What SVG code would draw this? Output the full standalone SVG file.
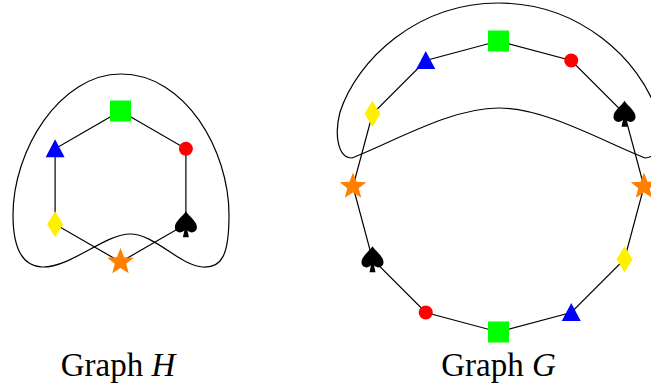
<svg xmlns="http://www.w3.org/2000/svg" xmlns:xlink="http://www.w3.org/1999/xlink" width="651" height="388" viewBox="0 0 651 388">
<style>
.edge{stroke:#000;stroke-width:1.2;fill:none}
.blob{stroke:#000;stroke-width:1.2;fill:none}
.label{font-family:"Liberation Serif","DejaVu Serif",serif;font-size:33px;fill:#000;text-anchor:middle}
.it{font-style:italic}
</style>
<defs>
<rect id="sq" x="-10.5" y="-10.5" width="21" height="21" fill="#00ff00"/>
<polygon id="tri" points="0,-9.5 9.5,8.5 -9.5,8.5" fill="#0000ff"/>
<circle id="cir" r="7" fill="#ff0000"/>
<polygon id="dia" points="0,-13 8,0 0,13 -8,0" fill="#fff000"/>
<path id="spd" d="M0,-13 C4,-7 11,-3 11,3 C11,8 5,10 1.5,6 L3,13 L-3,13 L-1.5,6 C-5,10 -11,8 -11,3 C-11,-3 -4,-7 0,-13 Z" fill="#000"/>
<polygon id="str" points="0,-14 3.53,-4.85 13.31,-4.33 5.71,1.85 8.23,11.33 0,6 -8.23,11.33 -5.71,1.85 -13.31,-4.33 -3.53,-4.85" fill="#ff8000"/>
</defs>
<g id="connectors">
<path class="blob" d="M121,74 C185,74 229,150 229,215 C229,255 222,268 203,267 C180,266 155,234 130,234 C105,234 70,268 42,267 C20,266 13,245 13,215 C13,150 60,74 121,74 Z"/>
<polygon class="edge" points="120.5,111 185.9,148.75 185.9,224.25 120.5,262 55.1,224.25 55.1,148.75"/>
<path class="blob" d="M498.5,3 C580,3 640,60 657,112 C663,135 659,158 645,158 C600,140 545,108 498.5,108 C452,108 397,140 352,158 C338,158 334,135 340,112 C357,60 417,3 498.5,3 Z"/>
<polygon class="edge" points="498.5,41 571.25,60.5 624.5,113.75 644,186.5 624.5,259.25 571.25,312.5 498.5,332 425.75,312.5 372.5,259.25 353,186.5 372.5,113.75 425.75,60.5"/>
</g>
<g id="H-square"><use xlink:href="#sq" x="120.5" y="111"/></g>
<g id="H-triangle"><use xlink:href="#tri" x="55.1" y="148.75"/></g>
<g id="H-circle"><use xlink:href="#cir" x="185.9" y="148.75"/></g>
<g id="H-diamond"><use xlink:href="#dia" x="55.1" y="224.25"/></g>
<g id="H-spade"><use xlink:href="#spd" x="185.9" y="224.25"/></g>
<g id="H-star"><use xlink:href="#str" x="120.5" y="262"/></g>
<g id="G-square-top"><use xlink:href="#sq" x="498.5" y="41"/></g>
<g id="G-circle-top"><use xlink:href="#cir" x="571.25" y="60.5"/></g>
<g id="G-spade-right"><use xlink:href="#spd" x="624.5" y="113.75"/></g>
<g id="G-star-right"><use xlink:href="#str" x="644" y="186.5"/></g>
<g id="G-diamond-right"><use xlink:href="#dia" x="624.5" y="259.25"/></g>
<g id="G-triangle-bottom"><use xlink:href="#tri" x="571.25" y="312.5"/></g>
<g id="G-square-bottom"><use xlink:href="#sq" x="498.5" y="332"/></g>
<g id="G-circle-bottom"><use xlink:href="#cir" x="425.75" y="312.5"/></g>
<g id="G-spade-left"><use xlink:href="#spd" x="372.5" y="259.25"/></g>
<g id="G-star-left"><use xlink:href="#str" x="353" y="186.5"/></g>
<g id="G-diamond-left"><use xlink:href="#dia" x="372.5" y="113.75"/></g>
<g id="G-triangle-top"><use xlink:href="#tri" x="425.75" y="60.5"/></g>
<g id="labels">
<text class="label" x="118" y="376">Graph <tspan class="it">H</tspan></text>
<text class="label" x="498.5" y="376">Graph <tspan class="it">G</tspan></text>
</g>
</svg>
